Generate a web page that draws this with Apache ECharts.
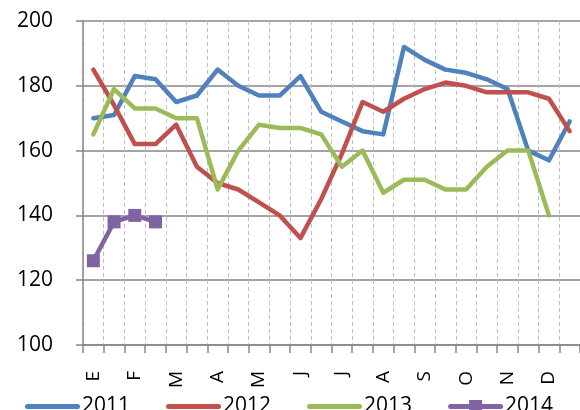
<!DOCTYPE html>
<html>
<head>
<meta charset="utf-8">
<script src="https://cdn.jsdelivr.net/npm/echarts@6/dist/echarts.min.js"></script>
<style>html,body{margin:0;padding:0;background:#fff}#c{width:580px;height:410px}</style>
</head>
<body>
<div id="c"></div>
<script>
const months = ['E','F','M','A','M','J','J','A','S','O','N','D'];
const yTicks = [100, 120, 140, 160, 180, 200];
const seriesNames = ['2011', '2012', '2013', '2014'];
const v2011 = [170,171,183,182,175,177,185,180,177,177,183,172,169,166,165,192,188,185,184,182,179,160,157,169];
const v2012 = [185,174,162,162,168,155,150,148,144,140,133,145,159,175,172,176,179,181,180,178,178,178,176,166];
const v2013 = [165,179,173,173,170,170,148,160,168,167,167,165,155,160,147,151,151,148,148,155,160,160,140,null];
const v2014 = [126,138,140,138,null,null,null,null,null,null,null,null,null,null,null,null,null,null,null,null,null,null,null,null];

const categories = [];
months.forEach((m, i) => { categories.push(i + 'a'); categories.push(i + 'b'); });

const colors = ['#4F81BD', '#C0504D', '#9BBB59', '#8064A2'];
const font = 'Open Sans, Liberation Sans, sans-serif';
const lineIcon = 'path://M2.5,4.5L52.5,4.5A2.5,2.5,0,0,1,52.5,9.5L2.5,9.5A2.5,2.5,0,0,1,2.5,4.5Z';
const markIcon = 'path://M2.5,4.5L21,4.5L21,0.5L34,0.5L34,4.5L52.5,4.5A2.5,2.5,0,0,1,52.5,9.5L34,9.5L34,13.5L21,13.5L21,9.5L2.5,9.5A2.5,2.5,0,0,1,2.5,4.5Z';
const chart = echarts.init(document.getElementById('c'));
const values = [v2011, v2012, v2013, v2014];
chart.setOption({
  animation: false,
  color: colors,
  grid: { left: 83, top: 21, bottom: 65, right: -9, containLabel: false },
  legend: {
    left: 20, top: 391, itemWidth: 55, itemHeight: 14, itemGap: 36,
    symbolKeepAspect: true,
    textStyle: { fontSize: 21, fontFamily: font, color: '#000', padding: [0,0,0,-3] },
    data: seriesNames.map((n, k) => ({ name: n, icon: k === 3 ? markIcon : lineIcon }))
  },
  xAxis: {
    type: 'category', data: categories, boundaryGap: true,
    axisLine: { lineStyle: { color: '#868686', width: 1.5 } },
    axisTick: { show: true, interval: 0, length: 8, lineStyle: { color: '#868686', width: 1.5 } },
    axisLabel: {
      interval: 0, rotate: 90, margin: 26, fontSize: 19, fontFamily: font, color: '#000',
      formatter: (v, i) => (i % 2 === 0 ? months[i / 2] : '')
    },
    splitLine: { show: true, interval: 0, lineStyle: { color: '#BFBFBF', type: [4, 3], width: 1 } }
  },
  yAxis: {
    type: 'value', min: yTicks[0], max: yTicks[yTicks.length - 1], interval: 20,
    axisLine: { show: true, lineStyle: { color: '#868686', width: 1.5 } },
    axisTick: { show: true, length: 7, lineStyle: { color: '#868686', width: 1.5 } },
    axisLabel: { margin: 30, fontSize: 21, fontFamily: font, color: '#000' },
    splitLine: { show: true, lineStyle: { color: '#868686', width: 1.5 } }
  },
  series: seriesNames.map((n, k) => ({
    name: n, type: 'line', data: values[k],
    symbol: k === 3 ? 'rect' : 'none', symbolSize: 13, showSymbol: k === 3,
    lineStyle: { width: 4.5, color: colors[k], cap: 'round', join: 'round' },
    itemStyle: { color: colors[k] },
    connectNulls: false, clip: true
  }))
});
</script>
</body>
</html>
